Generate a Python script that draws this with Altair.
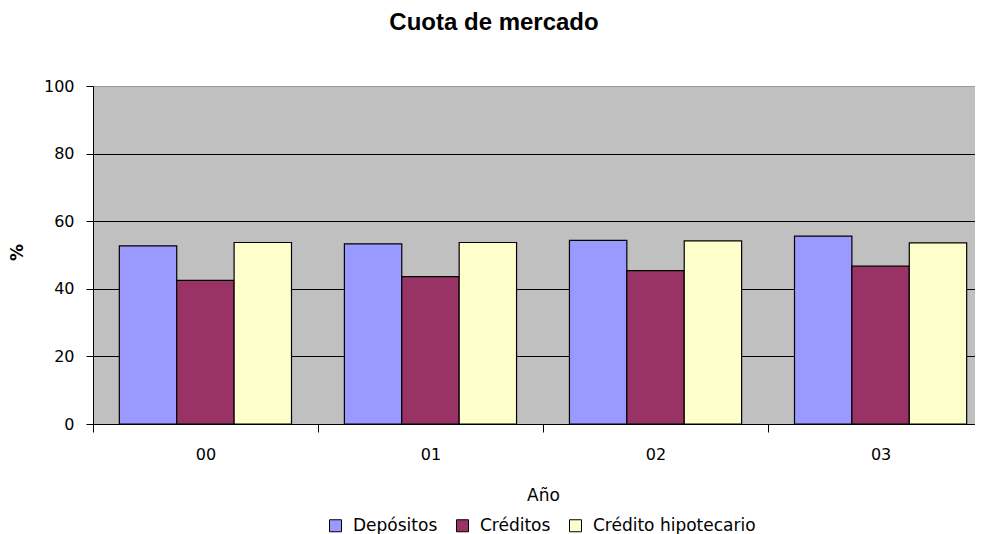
import altair as alt
import pandas as pd

years = ["00", "01", "02", "03"]
series = ["Depósitos", "Créditos", "Crédito hipotecario"]
depositos = [52.7, 53.3, 54.3, 55.6]
creditos = [42.5, 43.6, 45.4, 46.7]
hipotecario = [53.7, 53.7, 54.2, 53.6]
colors = ["#9999FF", "#993366", "#FFFFCC"]
y_ticks = [0, 20, 40, 60, 80, 100]

rows = []
for name, vals in zip(series, [depositos, creditos, hipotecario]):
    for yr, v in zip(years, vals):
        rows.append({"Año": yr, "Serie": name, "Valor": v})
df = pd.DataFrame(rows)

chart = alt.Chart(df).mark_bar(stroke="black", strokeWidth=1.2).encode(
    x=alt.X(
        "Año:N",
        sort=years,
        scale=alt.Scale(range=[0, 900], paddingInner=0.235, paddingOuter=0.117),
        axis=alt.Axis(
            title="Año",
            labelAngle=0,
            tickOffset=-112.5,
            labelOffset=112.5,
            grid=False,
            labelFont="DejaVu Sans",
            labelFontSize=16,
            labelColor="black",
            labelPadding=14,
            tickSize=8,
            tickColor="black",
            domainColor="black",
            titleFont="DejaVu Sans",
            titleFontSize=17,
            titleFontWeight="normal",
            titleColor="black",
            titleX=450,
            titleY=76,
            titleBaseline="alphabetic",
        ),
    ),
    xOffset=alt.XOffset("Serie:N", sort=series, scale=alt.Scale(paddingInner=0, paddingOuter=0)),
    y=alt.Y(
        "Valor:Q",
        scale=alt.Scale(domain=[0, 100], nice=False),
        axis=alt.Axis(
            values=y_ticks,
            title="%",
            grid=True,
            gridColor={"condition": {"test": "datum.value === 100", "value": "#9a9a9a"}, "value": "black"},
            gridWidth=1,
            labelFont="DejaVu Sans",
            labelFontSize=16,
            labelColor="black",
            labelPadding=12,
            tickSize=7,
            tickColor="black",
            domainColor="black",
            titleFont="DejaVu Sans",
            titleFontSize=17,
            titleFontWeight="bold",
            titleColor="black",
            titleAngle=270,
            titleX=-76,
            titleY=166,
            titleAlign="center",
            titleBaseline="middle",
        ),
    ),
    color=alt.Color(
        "Serie:N",
        sort=series,
        scale=alt.Scale(domain=series, range=colors),
        legend=alt.Legend(
            title=None,
            orient="none",
            legendX=234,
            legendY=431,
            direction="horizontal",
            symbolType="square",
            symbolSize=144,
            symbolStrokeColor="black",
            symbolStrokeWidth=1,
            symbolOpacity=1,
            labelFont="DejaVu Sans",
            labelFontSize=17,
            labelColor="black",
            labelOffset=9,
            labelLimit=400,
            columnPadding=16,
            padding=0,
        ),
    ),
).properties(
    width=882,
    height=338,
    title=alt.TitleParams(
        "Cuota de mercado",
        font="Liberation Sans",
        fontSize=24,
        fontWeight="bold",
        color="black",
        anchor="middle",
        dx=-40,
        offset=24,
        baseline="alphabetic",
    ),
    autosize=alt.AutoSizeParams(type="none"),
    padding={"left": 85, "top": 78, "right": 0, "bottom": 112},
).configure_view(fill="#C0C0C0", stroke="transparent")

chart.save("out.html", embed_options={"renderer": "svg", "actions": False})
